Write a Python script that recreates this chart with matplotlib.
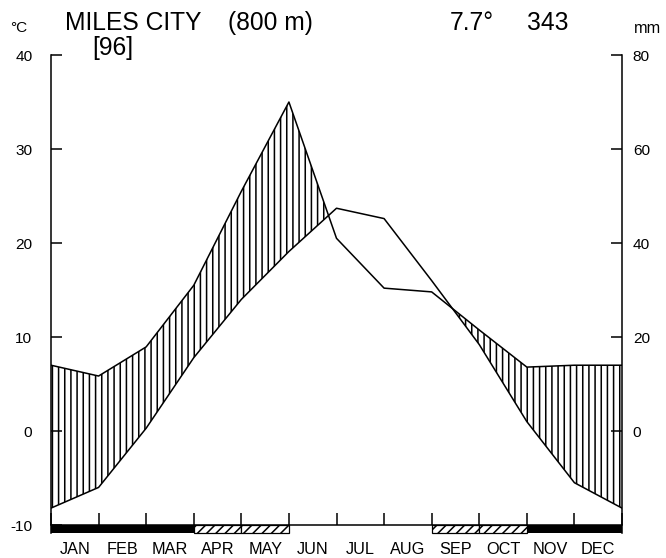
import numpy as np
import matplotlib
matplotlib.use("Agg")
import matplotlib.pyplot as plt

plt.rcParams['font.family'] = ['Liberation Sans', 'DejaVu Sans']
plt.rcParams['hatch.linewidth'] = 1.0

months = ["JAN", "FEB", "MAR", "APR", "MAY", "JUN", "JUL", "AUG", "SEP", "OCT", "NOV", "DEC"]
temperature = [-8.2, -6.0, 0.3, 7.8, 14.0, 19.1, 23.7, 22.6, 16.0, 9.2, 1.0, -5.5]
precipitation = [14.0, 11.7, 17.9, 31.0, 51.0, 70.0, 41.0, 30.4, 29.6, 21.5, 13.6, 14.0]
frost = ["sure", "sure", "sure", "prob", "prob", "none", "none", "none", "prob", "prob", "sure", "sure"]
temp_ticks = [-10, 0, 10, 20, 30, 40]
prec_ticks = [0, 20, 40, 60, 80]
station = "MILES CITY"
elevation = "(800 m)"
years = "[96]"
mean_temp = "7.7°"
annual_prec = "343"

DPI = 111
fig = plt.figure(figsize=(666 / DPI, 558 / DPI), dpi=DPI)
ax = fig.add_axes([51 / 666, 1 - 536.3 / 558, 571 / 666, (536.3 - 52.2) / 558])

x = np.arange(13)
t = np.append(temperature, temperature[0])
p = np.append(precipitation, precipitation[0]) / 2.0

ax.fill_between(x, t, p, where=p >= t, interpolate=True, facecolor='none',
                edgecolor='black', hatch='|||', linewidth=0)
ax.plot(x, t, color='black', lw=1.0)
ax.plot(x, p, color='black', lw=1.0)

# frost bar
for i, f in enumerate(frost):
    if f == "sure":
        ax.bar(i + 0.5, -0.9, bottom=-10, width=1.0, color='black', linewidth=0)
    elif f == "prob":
        ax.bar(i + 0.5, -0.9, bottom=-10, width=1.0, facecolor='white',
               edgecolor='black', hatch='////', linewidth=0.8)

ax.set_xlim(0, 12)
ax.set_ylim(-11.2, 40.3)

ax.spines['top'].set_visible(False)
ax.spines['bottom'].set_position(('data', -10))
ax.spines['left'].set_bounds(-10.9, 40)
ax.spines['right'].set_bounds(-10.9, 40)
for s in ['left', 'right', 'bottom']:
    ax.spines[s].set_linewidth(1.0)

ax.set_xticks(np.arange(13))
ax.set_xticklabels([])
ax.tick_params(axis='x', which='major', direction='in', length=8, width=1.0)
ax.set_xticks(np.arange(12) + 0.5, minor=True)
ax.set_xticklabels(months, minor=True, fontsize=10.5)
ax.tick_params(axis='x', which='minor', length=0, pad=11)

ax.set_yticks(temp_ticks)
ax.set_yticklabels([str(v) for v in temp_ticks], fontsize=10)
ax.tick_params(axis='y', direction='in', length=7, width=1.0, pad=12)

ax2 = ax.twinx()
ax2.set_ylim(-22.4, 80.6)
ax2.set_yticks(prec_ticks)
ax2.set_yticklabels([str(v) for v in prec_ticks], fontsize=10)
ax2.tick_params(axis='y', direction='in', length=7, width=1.0, pad=7)
for s in ['top', 'left', 'bottom', 'right']:
    ax2.spines[s].set_visible(False)

fig.text(10 / 666, 1 - 32 / 558, "°C", fontsize=10, va='baseline', ha='left')
fig.text(634 / 666, 1 - 33 / 558, "mm", fontsize=10.5, va='baseline', ha='left')
fig.text(65 / 666, 1 - 30 / 558, station, fontsize=16, va='baseline', ha='left')
fig.text(228 / 666, 1 - 30 / 558, elevation, fontsize=16, va='baseline', ha='left')
fig.text(92 / 666, 1 - 55 / 558, years, fontsize=16, va='baseline', ha='left')
fig.text(450 / 666, 1 - 30 / 558, mean_temp, fontsize=16, va='baseline', ha='left')
fig.text(527 / 666, 1 - 30 / 558, annual_prec, fontsize=16, va='baseline', ha='left')

fig.savefig("out.png", dpi=DPI)
